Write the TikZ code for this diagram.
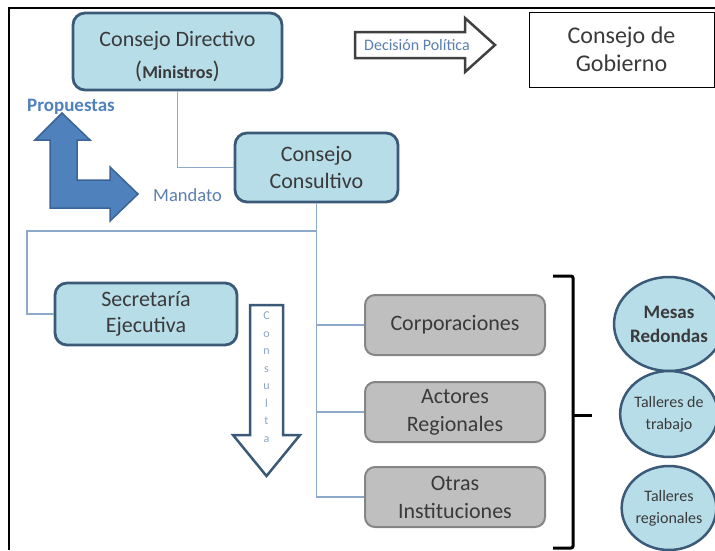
\documentclass[tikz,border=0pt]{standalone}
\usepackage{fontspec}
\setmainfont{Carlito}
\usetikzlibrary{shapes.geometric}
\definecolor{cajaazul}{HTML}{B7DDE8}
\definecolor{bordeazul}{HTML}{3B5A78}
\definecolor{cajagris}{HTML}{BFBFBF}
\definecolor{bordegris}{HTML}{858585}
\definecolor{linea}{HTML}{8EAACB}
\definecolor{flecha}{HTML}{4F81BD}
\definecolor{bordeflecha}{HTML}{3A6496}
\definecolor{rotulo}{HTML}{5A7FAE}
\definecolor{texto}{HTML}{3A3A3A}
\begin{document}
\begin{tikzpicture}[x=1pt,y=-1pt,
    caja/.style={draw=bordeazul,fill=cajaazul,line width=2.8,rounded corners=12,
      inner sep=0,align=center,text=texto,font=\fontsize{22}{26}\selectfont},
    gris/.style={draw=bordegris,fill=cajagris,line width=2,rounded corners=10,
      inner sep=0,align=center,text=texto,font=\fontsize{22}{28}\selectfont,
      minimum width=180,minimum height=60},
    burbuja/.style={ellipse,draw=bordeazul,fill=cajaazul,line width=2.5,
      inner sep=0,align=center,text=texto,minimum width=94},
    enlace/.style={draw=linea,line width=1.2}]
  \useasboundingbox (0,0) rectangle (715,550);
  \draw[line width=2.5] (9,550) -- (9,8) -- (715,8);
  % cajas principales
  \node[caja,minimum width=209,minimum height=77,font=\fontsize{22}{32}\selectfont] (dir) at (177.5,51.5)
    {\rule{0pt}{26pt}Consejo Directivo\\{\fontsize{24}{32}\selectfont(}{\bfseries\fontsize{18}{32}\selectfont Ministros}{\fontsize{24}{32}\selectfont)}};
  \node[caja,minimum width=163,minimum height=69,font=\fontsize{22}{27}\selectfont] (cons) at (316.5,167.5) {Consejo\\Consultivo};
  \node[caja,minimum width=182,minimum height=62] (sec) at (146,314) {Secretaría\\Ejecutiva};
  \node[draw,line width=1,minimum width=185,minimum height=75,inner sep=0,align=center,
    text=texto,font=\fontsize{24}{28}\selectfont] (gob) at (621.5,49.5) {Consejo de\\Gobierno};
  \node[gris] (corp) at (455,325) {Corporaciones};
  \node[gris] (act) at (455,412) {Actores\\Regionales};
  \node[gris] (oi) at (455,497) {Otras\\Instituciones};
  \node[burbuja,minimum height=94,font=\bfseries\fontsize{19}{24}\selectfont] (mesas) at (669,324) {Mesas\\Redondas};
  \node[burbuja,minimum height=86,font=\fontsize{16}{22}\selectfont] (tall) at (669,414) {Talleres de\\trabajo};
  \node[burbuja,minimum height=84,font=\fontsize{16}{22}\selectfont] (treg) at (669,508) {Talleres\\regionales};
  % enlaces
  \draw[enlace] (dir.south) |- (cons.west);
  \coordinate (rama) at (cons.south |- 0,231);
  \draw[enlace] (cons.south) |- (oi.west);
  \draw[enlace] (rama) -| (27,314) -- (sec.west);
  \draw[enlace] (cons.south |- corp.west) -- (corp.west);
  \draw[enlace] (cons.south |- act.west) -- (act.west);
  % flechas
  \draw[draw=bordeflecha,fill=flecha,line width=1.5,line join=miter]
    (62,113) -- (90,140) -- (77,140) -- (77,180) -- (110,180) -- (110,167) -- (138,194)
    -- (110,221) -- (110,208) -- (50,208) -- (50,140) -- (35,140) -- cycle;
  \node[text=flecha,font=\bfseries\fontsize{19}{22}\selectfont] (prop) at (71,107) {Propuestas};
  \node[text=rotulo,font=\fontsize{18.5}{22}\selectfont] (mand) at (187.5,195) {Mandato};
  \draw[draw=black!75,fill=white,line width=2.5,line join=miter]
    (355,32) -- (465,32) -- (465,18) -- (495,45) -- (465,72) -- (465,58) -- (355,58) -- cycle;
  \node[text=rotulo,font=\fontsize{16}{20}\selectfont] (dec) at (417,45) {Decisión Política};
  \draw[draw=bordeazul,fill=white,line width=2.5,line join=miter]
    (250,305) -- (283,305) -- (283,435) -- (300,435) -- (266.5,476) -- (233,435) -- (250,435) -- cycle;
  \node[text=rotulo!70,align=center,font=\fontsize{12}{17.5}\selectfont] (cta) at (266.5,377)
    {C\\o\\n\\s\\u\\l\\t\\a};
  % llave
  \draw[line width=3,rounded corners=2] (553,276) -- (573,276) -- (573,548) -- (553,548);
  \draw[line width=3] (573,415) -- (592,415);
\end{tikzpicture}
\end{document}
